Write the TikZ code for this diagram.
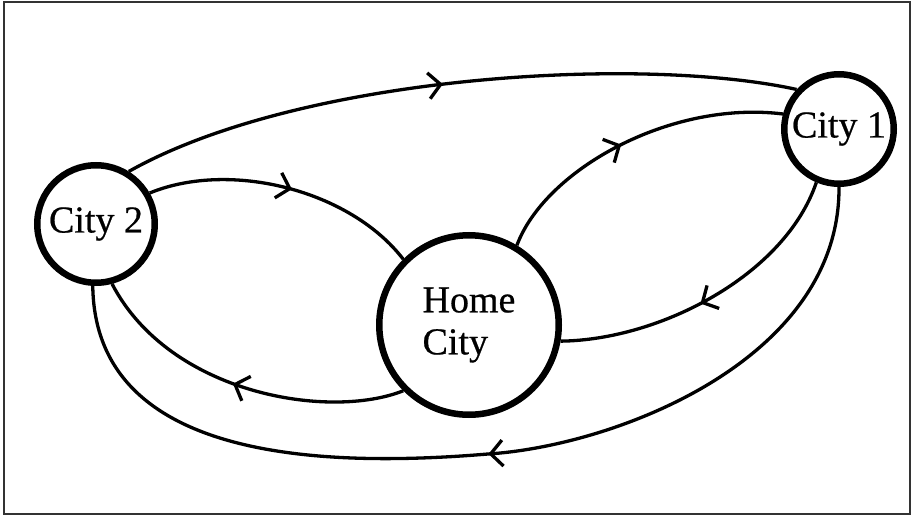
\documentclass[tikz,border=0pt]{standalone}
\usepackage{fontspec}
\setmainfont{Liberation Serif}
\usetikzlibrary{arrows.meta,decorations.markings}
\begin{document}
\begin{tikzpicture}[x=1pt,y=-1pt,
  city/.style={circle,draw,line width=6.5pt,inner sep=0pt,font=\fontsize{38}{42}\selectfont\addfontfeature{FakeBold=0.6},align=left},
  link/.style={line width=3.3pt},
  marr/.style={postaction={decorate,decoration={markings,mark=at position #1 with {\arrow{Straight Barb[length=12pt,width=26pt,line width=3.3pt]}}}}}
]
\useasboundingbox (0,0) rectangle (913,516);
\draw[line width=1.2pt,black!80] (4,2) rectangle (910,514);
\node[city,minimum size=117.5pt] (c2) at (96,224) {City 2};
\node[city,minimum size=109.5pt] (c1) at (839,129) {City 1};
\node[city,minimum size=179.5pt] (home) at (469,325) {Home\\City};
% City 2 -> City 1 (top)
\draw[link,marr=0.48] (c2.58) .. controls (300,75) and (640,55) .. (c1.137);
% City 2 -> Home
\draw[link,marr=0.52] (c2.30) .. controls (230,160) and (350,190) .. (home.135);
% Home -> City 1
\draw[link,marr=0.47] (home.59) .. controls (545,170) and (670,100) .. (c1.165);
% City 1 -> Home
\draw[link,marr=0.54] (c1.247) .. controls (785,275) and (660,340) .. (home.350);
% Home -> City 2 (inner lower)
\draw[link,marr=0.52] (home.225) .. controls (330,420) and (170,395) .. (c2.285);
% City 1 -> City 2 (outer lower)
\coordinate (m6) at (488,454);
\draw[link,marr=0.999] (c1.270) .. controls (840,360) and (615,446) .. (m6);
\draw[link] (m6) .. controls (320,468) and (95,460) .. (c2.267);
\end{tikzpicture}
\end{document}
